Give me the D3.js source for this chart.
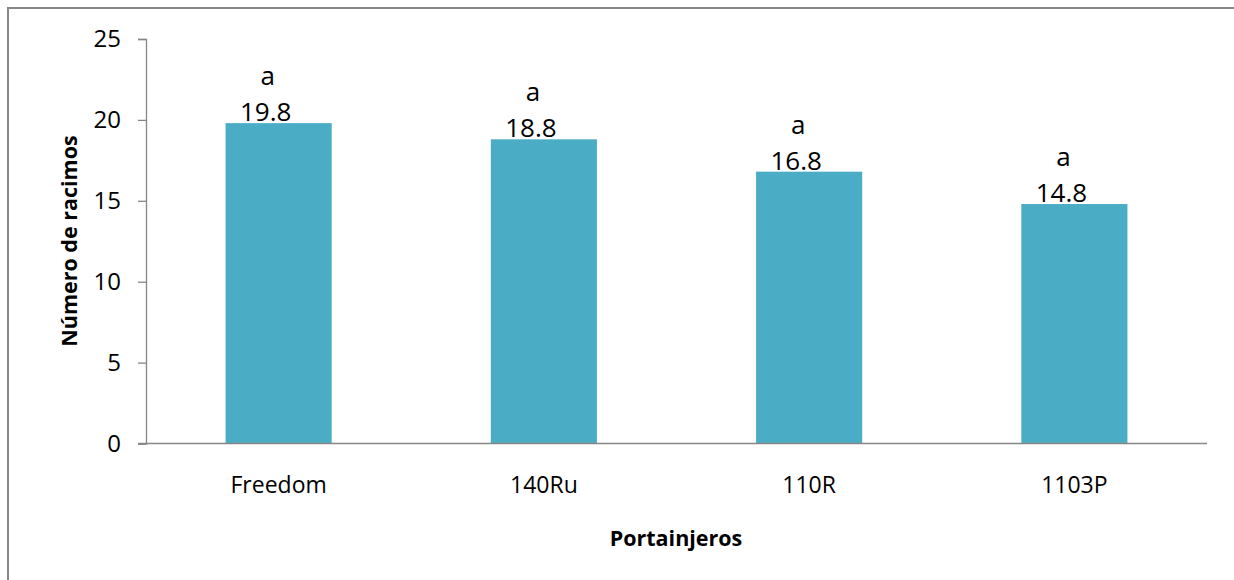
<!DOCTYPE html>
<html>
<head>
<meta charset="utf-8">
<script src="https://cdn.jsdelivr.net/npm/d3@7/dist/d3.min.js"></script>
<style>
  html, body { margin: 0; padding: 0; background: #fff; }
  svg { display: block; }
  text { font-family: "Open Sans", "Noto Sans", sans-serif; fill: #000; }
</style>
</head>
<body>
<svg id="chart" width="1234" height="580"></svg>
<script>
const categories = ["Freedom", "140Ru", "110R", "1103P"];
const values = [19.8, 18.8, 16.8, 14.8];
const letters = ["a", "a", "a", "a"];
const yTicks = [0, 5, 10, 15, 20, 25];
const yTitle = "Número de racimos";
const xTitle = "Portainjeros";

const W = 1234, H = 580;
const margin = { left: 146, right: 27, top: 38, bottom: 137 };
const svg = d3.select("#chart");

// outer frame
svg.append("rect")
  .attr("x", 8).attr("y", 8)
  .attr("width", W).attr("height", H)
  .attr("fill", "none").attr("stroke", "#888").attr("stroke-width", 2);

const x = d3.scaleBand().domain(categories)
  .range([margin.left, W - margin.right]).paddingInner(0.6).paddingOuter(0.3);
const y = d3.scaleLinear().domain([0, 25]).range([H - margin.bottom + 0.5, margin.top + 1]);

// y axis
const yAxis = svg.append("g")
  .attr("transform", `translate(${margin.left},0)`)
  .call(d3.axisLeft(y).tickValues(yTicks).tickSize(8).tickPadding(17).tickFormat(d3.format("d")));
yAxis.select(".domain").attr("stroke", "#868686").attr("stroke-width", 1.3);
yAxis.selectAll(".tick line").attr("stroke", "#868686").attr("stroke-width", 1.3);
yAxis.selectAll(".tick text").style("font-size", "24px").style("fill", "#000");

// bars
svg.append("g").selectAll("rect").data(values).join("rect")
  .attr("x", (d, i) => x(categories[i]))
  .attr("width", x.bandwidth())
  .attr("y", d => y(d))
  .attr("height", d => y(0) - y(d))
  .attr("fill", "#4BACC6");

// x axis
const xAxis = svg.append("g")
  .attr("transform", `translate(0,${y(0)})`)
  .call(d3.axisBottom(x).tickSize(0).tickPadding(33).tickSizeOuter(0));
xAxis.select(".domain").attr("stroke", "#868686").attr("stroke-width", 1.3)
  .attr("d", `M${margin.left - 8},0H${W - margin.right}`);
xAxis.selectAll(".tick text").style("font-size", "23px").style("fill", "#000");

// value labels
svg.append("g").selectAll("text").data(values).join("text")
  .attr("x", (d, i) => x(categories[i]) + x.bandwidth() / 2 - 13)
  .attr("y", d => y(d) - 2)
  .attr("text-anchor", "middle")
  .style("font-size", "26px")
  .text(d => d.toFixed(1));

// letter labels
svg.append("g").selectAll("text").data(letters).join("text")
  .attr("x", (d, i) => x(categories[i]) + x.bandwidth() / 2 - 11)
  .attr("y", (d, i) => y(values[i]) - 38)
  .attr("text-anchor", "middle")
  .style("font-size", "26px")
  .text(d => d);

// axis titles
svg.append("text")
  .attr("transform", `translate(77,241) rotate(-90)`)
  .attr("text-anchor", "middle")
  .style("font-size", "21.5px").style("font-weight", "bold")
  .text(yTitle);
svg.append("text")
  .attr("x", 676).attr("y", 546)
  .attr("text-anchor", "middle")
  .style("font-size", "21.5px").style("font-weight", "bold")
  .text(xTitle);
</script>
</body>
</html>
